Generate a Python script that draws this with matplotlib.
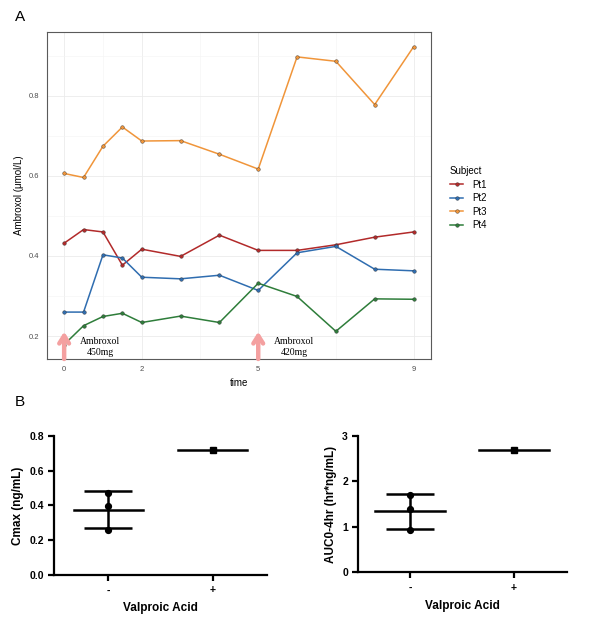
import matplotlib
matplotlib.use("Agg")
import matplotlib.pyplot as plt
import numpy as np

# ---------------- data ----------------
time = [0, 0.5, 1, 1.5, 2, 3, 4, 5, 6, 7, 8, 9]
subjects = ["Pt1", "Pt2", "Pt3", "Pt4"]
pt1 = [0.432, 0.466, 0.460, 0.377, 0.417, 0.399, 0.452, 0.414, 0.414, 0.428, 0.447, 0.460]
pt2 = [0.260, 0.260, 0.403, 0.395, 0.347, 0.343, 0.352, 0.314, 0.408, 0.424, 0.367, 0.363]
pt3 = [0.606, 0.596, 0.674, 0.722, 0.687, 0.688, 0.654, 0.617, 0.897, 0.886, 0.778, 0.922]
pt4 = [0.179, 0.226, 0.249, 0.257, 0.234, 0.250, 0.234, 0.332, 0.299, 0.212, 0.293, 0.292]
subject_colors = ["#B22A2A", "#2F6DB0", "#F0953A", "#2E7D3A"]
x_breaks = [0, 2, 5, 9]
y_breaks = [0.2, 0.4, 0.6, 0.8]
dose_times = [0, 5]
dose_labels = ["Ambroxol\n450mg", "Ambroxol\n420mg"]

groups = ["-", "+"]
cmax_minus = [0.469, 0.398, 0.258]
cmax_plus = [0.716]
auc_minus = [1.69, 1.385, 0.936]
auc_plus = [2.68]

# ---------------- figure ----------------
fig = plt.figure(figsize=(6.0, 6.18), dpi=100)
sans = ["Liberation Sans", "DejaVu Sans"]
plt.rcParams["font.family"] = sans

# ---- Panel A ----
axA = fig.add_axes([0.0778, 0.4191, 0.6405, 0.5291])
series = [pt1, pt2, pt3, pt4]
for name, vals, col in zip(subjects, series, subject_colors):
    axA.plot(time, vals, color=col, lw=1.1, marker="o", ms=2.6,
             mfc=col, mec="#333333", mew=0.3, label=name, zorder=3)

axA.set_xlim(-0.45, 9.45)
axA.set_ylim(0.1429, 0.9591)
axA.set_xticks(x_breaks)
axA.set_yticks(y_breaks)
axA.set_xticks([1, 3.5, 7], minor=True)
axA.set_yticks([0.3, 0.5, 0.7, 0.9], minor=True)
axA.set_yticklabels(["0.2", "0.4", "0.6", "0.8"])
axA.grid(which="major", color="#EBEBEB", lw=0.6, zorder=0)
axA.grid(which="minor", color="#F4F4F4", lw=0.4, zorder=0)
axA.tick_params(which="both", length=0)
axA.tick_params(which="major", labelsize=5.5, labelcolor="#4D4D4D", pad=5)
for s in axA.spines.values():
    s.set_color("#5A5A5A")
    s.set_linewidth(0.8)
axA.set_xlabel("time", fontsize=7, labelpad=4)
axA.set_ylabel("Ambroxol (\u03bcmol/L)", fontsize=7, labelpad=4)

for t, lab in zip(dose_times, dose_labels):
    axA.annotate("", xy=(t, 0.211), xytext=(t, 0.1429),
                 arrowprops=dict(arrowstyle="->,head_length=0.55,head_width=0.35",
                                 color="#F4A0A0", lw=3.2, shrinkA=0, shrinkB=0),
                 zorder=4)
    axA.text(t + 0.92, 0.172, lab, ha="center", va="center", fontsize=7,
             family=["Liberation Serif", "DejaVu Serif"], linespacing=1.25, zorder=5)

leg = axA.legend(title="Subject", loc="upper left", bbox_to_anchor=(0.735, 0.745),
                 bbox_transform=fig.transFigure, frameon=False, fontsize=7,
                 title_fontsize=7, handlelength=1.4, handletextpad=0.9,
                 labelspacing=0.35)
leg._legend_box.align = "left"

fig.text(0.025, 0.973, "A", fontsize=11, va="center", ha="left")
fig.text(0.025, 0.350, "B", fontsize=11, va="center", ha="left")


# ---- Panel B helper ----
def scatter_panel(ax, minus_vals, plus_vals, ylim, yticks, ylabel, xlim):
    xs = [0, 1]
    for xi, vals, mk in zip(xs, [minus_vals, plus_vals], ["o", "s"]):
        vals = np.asarray(vals, dtype=float)
        m = vals.mean()
        ax.plot([xi] * len(vals), vals, ls="none", marker=mk, ms=4.2,
                color="black", zorder=4, clip_on=False)
        ax.plot([xi - 0.333, xi + 0.333], [m, m], color="black", lw=1.8, zorder=3)
        if len(vals) > 1:
            sd = vals.std(ddof=1)
            ax.errorbar([xi], [m], yerr=[sd], color="black", lw=1.8,
                        capsize=17, capthick=1.8, zorder=3, fmt="none")
    ax.set_xlim(*xlim)
    ax.set_ylim(*ylim)
    ax.set_xticks(xs)
    ax.set_xticklabels(groups)
    ax.set_yticks(yticks)
    ax.spines["top"].set_visible(False)
    ax.spines["right"].set_visible(False)
    for s in ["left", "bottom"]:
        ax.spines[s].set_linewidth(1.6)
    ax.tick_params(axis="both", width=1.6, length=4, labelsize=7.5)
    for lab in ax.get_xticklabels() + ax.get_yticklabels():
        lab.set_fontweight("bold")
    ax.set_xlabel("Valproic Acid", fontsize=8.5, fontweight="bold", labelpad=5)
    ax.set_ylabel(ylabel, fontsize=8.5, fontweight="bold", labelpad=4)


axB1 = fig.add_axes([0.0905, 0.0696, 0.354, 0.2254])
scatter_panel(axB1, cmax_minus, cmax_plus, (0, 0.8),
              [0.0, 0.2, 0.4, 0.6, 0.8], "Cmax (ng/mL)", (-0.52, 1.52))
axB1.set_yticklabels(["0.0", "0.2", "0.4", "0.6", "0.8"])

axB2 = fig.add_axes([0.5972, 0.0739, 0.3473, 0.221])
scatter_panel(axB2, auc_minus, auc_plus, (0, 3),
              [0, 1, 2, 3], "AUC0-4hr (hr*ng/mL)", (-0.497, 1.507))

fig.savefig("out.png", dpi=100)
